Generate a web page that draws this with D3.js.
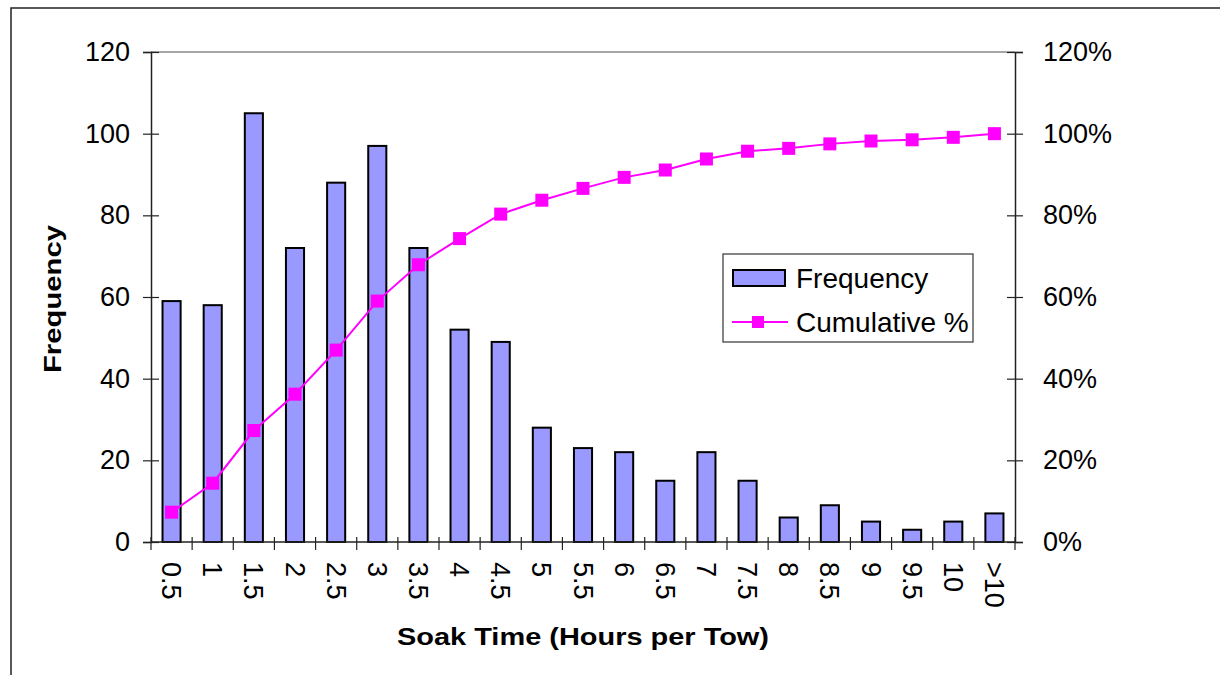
<!DOCTYPE html>
<html>
<head>
    <meta charset="utf-8">
    <title>Soak Time histogram</title>
    <script type="text/javascript" src="https://cdn.jsdelivr.net/npm/d3@7/dist/d3.min.js"></script>
    <style type="text/css">
        html, body { margin: 0; background: #fff; }
        svg { display: block; font-family: "Liberation Sans", Arial, sans-serif; }
    </style>
</head>
<body>
<script type="text/javascript">
    // data
    var categories = ["0.5","1","1.5","2","2.5","3","3.5","4","4.5","5","5.5","6","6.5","7","7.5","8","8.5","9","9.5","10",">10"];
    var frequency  = [59, 58, 105, 72, 88, 97, 72, 52, 49, 28, 23, 22, 15, 22, 15, 6, 9, 5, 3, 5, 7];
    var cumulative = [7.3, 14.4, 27.3, 36.2, 47.0, 59.0, 67.9, 74.3, 80.3, 83.7, 86.6, 89.3, 91.1, 93.8, 95.7, 96.4, 97.5, 98.2, 98.5, 99.1, 100];
    var freqTicks = [0, 20, 40, 60, 80, 100, 120];
    var pctTicks  = [0, 20, 40, 60, 80, 100, 120];

    var width = 1220, height = 675;
    var pLeft = 151, pRight = 1015, pTop = 52, pBottom = 542;

    var svg = d3.select("body").append("svg")
        .attr("width", width).attr("height", height);

    // outer frame
    svg.append("path")
        .attr("d", "M11," + height + "V8H" + width)
        .attr("fill", "none").attr("stroke", "#222").attr("stroke-width", 1.5);

    var x = d3.scaleBand().domain(categories).range([pLeft, pRight]).paddingInner(0.56).paddingOuter(0.28);
    var xb = d3.scaleBand().domain(categories).range([pLeft, pRight]);
    var yL = d3.scaleLinear().domain([0, 120]).range([pBottom, pTop]);
    var yR = d3.scaleLinear().domain([0, 120]).range([pBottom, pTop]);

    // top border of plot
    svg.append("line").attr("x1", pLeft).attr("x2", pRight).attr("y1", pTop).attr("y2", pTop)
        .attr("stroke", "#888").attr("stroke-width", 1.5);

    // bars
    svg.append("g").selectAll("rect").data(frequency).enter().append("rect")
        .attr("x", function (d, i) { return x(categories[i]); })
        .attr("width", x.bandwidth())
        .attr("y", function (d) { return yL(d); })
        .attr("height", function (d) { return pBottom - yL(d); })
        .attr("fill", "#9999ff").attr("stroke", "#000").attr("stroke-width", 2);

    // left axis
    var gL = svg.append("g").attr("transform", "translate(" + pLeft + ",0)")
        .call(d3.axisLeft(yL).tickValues(freqTicks).tickSize(8).tickPadding(13));
    gL.selectAll(".tick line").attr("x2", -8).attr("x1", 8);
    // right axis
    var gR = svg.append("g").attr("transform", "translate(" + pRight + ",0)")
        .call(d3.axisRight(yR).tickValues(pctTicks).tickSize(8).tickPadding(20)
            .tickFormat(function (d) { return d + "%"; }));
    gR.selectAll(".tick line").attr("x1", -8);
    // bottom axis with ticks between categories
    var gB = svg.append("g").attr("transform", "translate(0," + pBottom + ")")
        .call(d3.axisBottom(x).tickSize(0).tickPadding(0));
    gB.select(".domain").remove();
    gB.selectAll(".tick text")
        .attr("transform", "translate(0,15) rotate(90)")
        .attr("text-anchor", "start").attr("dy", "0.35em").attr("x", 5).attr("y", 0);
    svg.append("line").attr("x1", pLeft).attr("x2", pRight).attr("y1", pBottom).attr("y2", pBottom)
        .attr("stroke", "#222").attr("stroke-width", 1.5);
    svg.append("g").selectAll("line").data(categories.concat(["end"])).enter().append("line")
        .attr("x1", function (d, i) { return i < categories.length ? xb(d) : pRight; })
        .attr("x2", function (d, i) { return i < categories.length ? xb(d) : pRight; })
        .attr("y1", pBottom - 5).attr("y2", pBottom + 8)
        .attr("stroke", "#222").attr("stroke-width", 1.2);

    svg.selectAll(".domain").attr("stroke", "#222").attr("stroke-width", 1.5);
    svg.selectAll(".tick line").attr("stroke", "#222").attr("stroke-width", 1.2);
    svg.selectAll(".tick text").attr("font-size", "27px").attr("fill", "#000")
        .attr("font-family", "Liberation Sans, Arial, sans-serif");

    // cumulative line
    var line = d3.line()
        .x(function (d, i) { return x(categories[i]) + x.bandwidth() / 2; })
        .y(function (d) { return yR(d); });
    svg.append("path").datum(cumulative).attr("d", line)
        .attr("fill", "none").attr("stroke", "#ff00ff").attr("stroke-width", 2);
    svg.append("g").selectAll("rect").data(cumulative).enter().append("rect")
        .attr("x", function (d, i) { return x(categories[i]) + x.bandwidth() / 2 - 6.5; })
        .attr("y", function (d) { return yR(d) - 6.5; })
        .attr("width", 13).attr("height", 13).attr("fill", "#ff00ff");

    // axis titles
    svg.append("text").attr("x", 583).attr("y", 645).attr("text-anchor", "middle")
        .attr("font-size", "23px").attr("font-weight", "bold")
        .attr("textLength", 372).attr("lengthAdjust", "spacingAndGlyphs")
        .text("Soak Time (Hours per Tow)");
    svg.append("text").attr("transform", "translate(61,299) rotate(-90)").attr("text-anchor", "middle")
        .attr("font-size", "23px").attr("font-weight", "bold")
        .attr("textLength", 148).attr("lengthAdjust", "spacingAndGlyphs")
        .text("Frequency");

    // legend
    var lg = svg.append("g");
    lg.append("rect").attr("x", 723).attr("y", 254).attr("width", 250).attr("height", 88)
        .attr("fill", "#fff").attr("stroke", "#333").attr("stroke-width", 1.2);
    lg.append("rect").attr("x", 733).attr("y", 270).attr("width", 52).attr("height", 16)
        .attr("fill", "#9999ff").attr("stroke", "#000").attr("stroke-width", 2);
    lg.append("text").attr("x", 796).attr("y", 288).attr("font-size", "28px").text("Frequency");
    lg.append("line").attr("x1", 732).attr("x2", 788).attr("y1", 322).attr("y2", 322)
        .attr("stroke", "#ff00ff").attr("stroke-width", 2);
    lg.append("rect").attr("x", 752).attr("y", 316).attr("width", 12).attr("height", 12).attr("fill", "#ff00ff");
    lg.append("text").attr("x", 796).attr("y", 332).attr("font-size", "28px").text("Cumulative %");
</script>
</body>
</html>
